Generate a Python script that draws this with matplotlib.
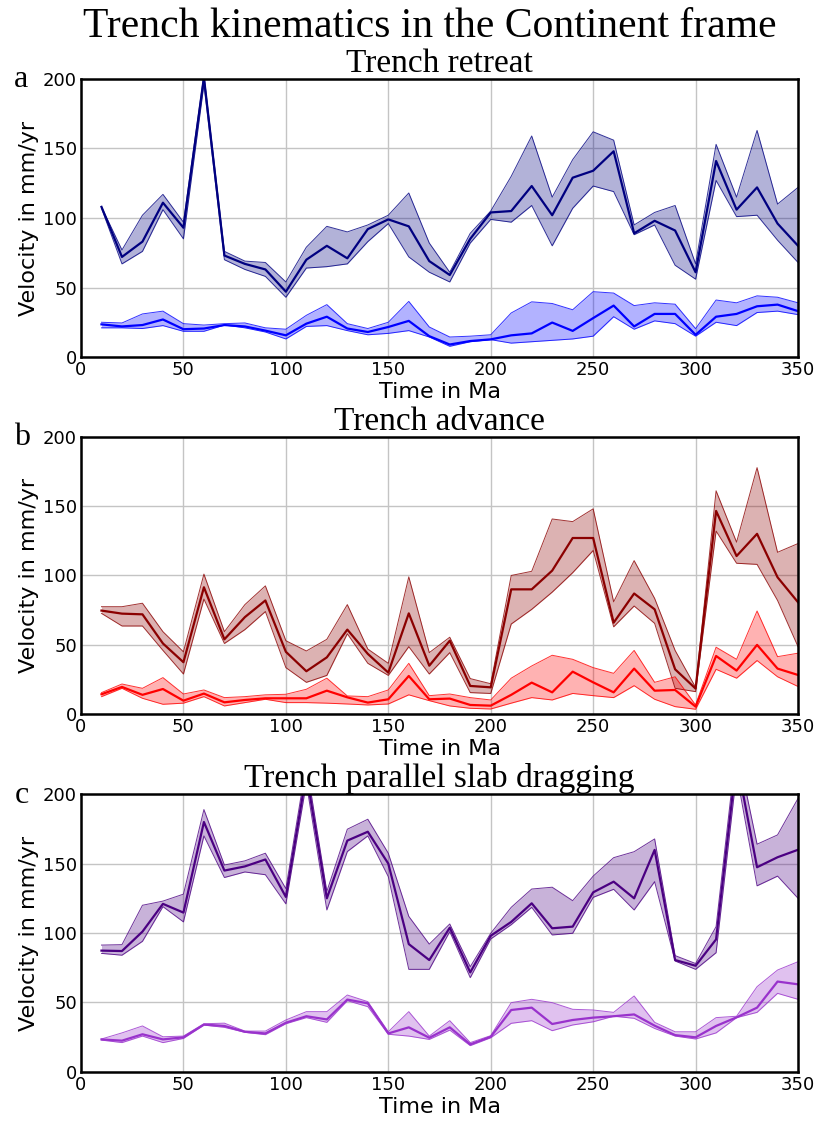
import matplotlib
matplotlib.use('Agg')
import matplotlib.pyplot as plt
import numpy as np

# time axis (Ma)
time_ma = [10, 20, 30, 40, 50, 60, 70, 80, 90, 100, 110, 120, 130, 140, 150, 160, 170, 180,
           190, 200, 210, 220, 230, 240, 250, 260, 270, 280, 290, 300, 310, 320, 330, 340, 350]

# a - trench retreat
retreat_fast_mean = [108, 72, 83, 111, 93, 201, 73, 67, 63, 47, 70, 80, 71, 92, 99, 94, 69, 59, 85, 104,
                     105, 123, 102, 129, 134, 148, 89, 98, 91, 61, 141, 106, 122, 96, 80]
retreat_fast_up = [108, 77, 102, 117, 97, 203, 76, 69, 68, 54, 79, 94, 90, 95, 102, 118, 82, 61, 89, 105,
                   130, 159, 115, 142, 162, 156, 95, 104, 109, 67, 153, 115, 163, 110, 122]
retreat_fast_low = [107, 67, 76, 106, 85, 196, 70, 63, 58, 43, 64, 65, 67, 83, 96, 72, 61, 54, 82, 99,
                    97, 109, 80, 107, 123, 119, 88, 95, 66, 56, 127, 101, 102, 84, 68]
retreat_slow_mean = [23.5, 22, 23, 27, 20, 20.5, 23, 22, 19, 15.6, 24, 29, 20.5, 18, 21.6, 26, 15, 9, 11.5, 12.7,
                     15.6, 17, 24.8, 18.8, 28, 37, 22, 31, 31, 16, 29, 31, 36.5, 37.7, 33]
retreat_slow_up = [25, 24.5, 31, 33, 24, 23, 24, 24.5, 21, 20, 30, 37.7, 24, 20.5, 25, 40, 21.6, 14.4, 15, 16,
                   31.7, 39.7, 38.5, 34, 47, 46, 37, 39, 38, 20.4, 41, 39, 44, 43, 39]
retreat_slow_low = [21, 21, 20.5, 22.6, 18.5, 18.5, 23, 21, 18, 13, 22, 22.6, 19, 16, 17, 19, 14.4, 7.7, 11, 12.5,
                    10, 11, 12, 13, 15, 29, 20, 26, 24, 15, 25, 22.6, 32, 33, 30.5]

# b - trench advance
advance_fast_mean = [74.7, 72.5, 72, 51, 37.5, 91.5, 54, 70, 82, 45, 31, 41, 61, 43.5, 30, 72.7, 35, 53, 20.4, 19.4,
                     90, 90, 103.5, 127, 127, 66, 87, 75.6, 32.4, 18.5, 146.5, 114, 130, 98.7, 80.7]
advance_fast_up = [77.5, 77.5, 80, 59.5, 45, 101, 59.5, 79, 92.5, 53, 45.6, 54, 79, 47, 36.7, 99, 44.4, 55.5, 25.7, 22,
                   100, 103, 140.7, 138.8, 148, 81, 110.7, 83.5, 46, 19.4, 161, 124, 177.7, 116.7, 123]
advance_fast_low = [72.7, 63.6, 63.6, 46, 29, 83, 51, 61, 74, 33.6, 23, 28, 58, 36.7, 28, 48.7, 29, 44.4, 15.6, 15,
                    65, 75.6, 88, 102, 118, 63, 78, 65.5, 18.7, 16.3, 132, 108.8, 108, 82, 48.7]
advance_slow_mean = [14.4, 19.7, 14, 18.2, 9.8, 14.9, 8.6, 10.3, 11.5, 11.5, 11.5, 17, 12.2, 8.4, 10.8, 27.6, 10.8, 11.3, 6.7, 6.2,
                     14, 22.8, 15.8, 30.7, 23, 15.8, 32.9, 17, 17.5, 5.5, 42, 31.5, 50, 32.9, 28.3]
advance_slow_up = [15.6, 21.8, 18.7, 26.4, 14.6, 17.5, 12, 12.7, 14, 14.4, 18, 26, 13.2, 12.7, 17.5, 36.7, 13.4, 14.6, 12, 10.3,
                   26, 34.8, 42.5, 39.6, 33.6, 29.5, 46, 23, 27, 6.7, 48.3, 39.6, 74.4, 41.5, 44]
advance_slow_low = [12.7, 18.7, 11.5, 7.2, 8, 12.7, 6, 8.4, 10.8, 8.4, 8.4, 8, 7.4, 6.7, 7.4, 14, 9.8, 6, 4.3, 3.8,
                    8, 12, 10.3, 15, 13.4, 12, 20.6, 10.8, 5.5, 3.6, 32.4, 26, 38.7, 27, 20]

# c - trench parallel slab dragging
drag_fast_mean = [87.3, 87, 101, 121, 114.7, 180, 145, 148, 153, 126, 215, 125, 166.6, 173, 150, 92, 80.5, 103.8, 71.6, 98,
                  108, 121.4, 103.4, 104.6, 129.3, 137, 125, 159.9, 80.5, 76.4, 95.4, 225, 147.4, 154.6, 160]
drag_fast_up = [91.3, 91.6, 120, 123, 128, 189, 149, 152, 157.5, 132, 222, 130, 174.8, 182, 157.5, 112, 92, 106.5, 75.7, 99.8,
                118.5, 131.7, 133, 123.3, 141, 154.3, 158.6, 167.8, 83.7, 78, 104.6, 235, 164, 170.7, 197]
drag_fast_low = [85.3, 84, 94, 119, 108, 170, 140, 144, 142, 121, 208, 116.6, 158.7, 170, 140.6, 73.8, 73.8, 101, 67.8, 95.7,
                 106, 118.5, 98.6, 99.8, 125.7, 131.5, 116.6, 137, 79.8, 73.8, 85.8, 215, 134, 141, 125]
drag_slow_mean = [23.3, 22.4, 27, 23.3, 24.8, 34, 33, 28.8, 27.6, 35.3, 40, 37.7, 52, 49.3, 27.6, 32, 24.5, 32, 19.7, 25.2,
                  44.5, 46.2, 34.4, 37.3, 39, 40, 41.3, 33.2, 26.4, 24.8, 33, 39.2, 46.2, 65, 63]
drag_slow_up = [23.6, 28, 33, 25.2, 25.7, 34.6, 35, 29.3, 29.3, 37.3, 43.3, 43.3, 55.3, 50.5, 28.8, 43.3, 25.7, 36.8, 21, 26,
                49.8, 52.2, 49.8, 45, 44.5, 42.8, 54.6, 35.6, 28.8, 28.8, 39, 40, 61.3, 73.3, 79.3]
drag_slow_low = [22.8, 21, 25.7, 21, 24, 33.6, 32, 28.4, 26.7, 34.6, 39, 35.6, 51.2, 46.9, 27, 25.7, 23.3, 30, 18.8, 24.5,
                 34.9, 36.8, 29.6, 33.7, 36, 40, 38.5, 31.2, 25.7, 23.6, 28, 39, 42.8, 56.5, 52.2]

SERIF = 'Liberation Serif'

panels = [
    ('a', 'Trench retreat',
     [(retreat_fast_mean, retreat_fast_up, retreat_fast_low, 'navy'),
      (retreat_slow_mean, retreat_slow_up, retreat_slow_low, 'blue')]),
    ('b', 'Trench advance',
     [(advance_fast_mean, advance_fast_up, advance_fast_low, 'darkred'),
      (advance_slow_mean, advance_slow_up, advance_slow_low, 'red')]),
    ('c', 'Trench parallel slab dragging',
     [(drag_fast_mean, drag_fast_up, drag_fast_low, 'indigo'),
      (drag_slow_mean, drag_slow_up, drag_slow_low, 'darkorchid')]),
]

# axes boxes in figure fraction (left, bottom, width, height)
boxes = [(0.0989, 0.6818, 0.8755, 0.2478),
         (0.0989, 0.3634, 0.8755, 0.2474),
         (0.0989, 0.0448, 0.8755, 0.2473)]

fig = plt.figure(figsize=(8.19, 11.22), dpi=100)

for (letter, title, series), box in zip(panels, boxes):
    ax = fig.add_axes(box)
    for mean, up, low, col in series:
        ax.fill_between(time_ma, low, up, color=col, alpha=0.3, linewidth=0)
        ax.plot(time_ma, up, color=col, linewidth=0.7, alpha=0.8)
        ax.plot(time_ma, low, color=col, linewidth=0.7, alpha=0.8)
        ax.plot(time_ma, mean, color=col, linewidth=1.6)
    ax.set_xlim(0, 350)
    ax.set_ylim(0, 200)
    ax.set_xticks([0, 50, 100, 150, 200, 250, 300, 350])
    ax.set_yticks([0, 50, 100, 150, 200])
    ax.grid(True, color='#c4c4c4', linewidth=1.0)
    ax.set_axisbelow(True)
    ax.tick_params(length=0, labelsize=13, pad=3)
    for sp in ax.spines.values():
        sp.set_linewidth(1.8)
    ax.set_xlabel('Time in Ma', fontsize=16, labelpad=2)
    ax.set_ylabel('Velocity in mm/yr', fontsize=16, labelpad=3)
    ax.set_title(title, fontsize=24, family=SERIF, pad=3)
    ax.text(-0.093, 0.97, letter, transform=ax.transAxes, fontsize=23, family=SERIF,
            ha='left', va='baseline')

fig.text(0.525, 0.976, 'Trench kinematics in the Continent frame', fontsize=30,
         family=SERIF, ha='center', va='center')

fig.savefig('out.png', dpi=100)
